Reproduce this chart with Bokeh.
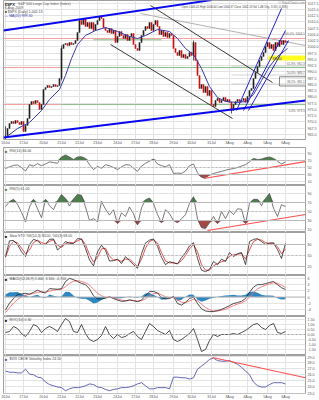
import numpy as np
from bokeh.plotting import figure
from bokeh.layouts import column
from bokeh.models import FixedTicker, Range1d, PrintfTickFormatter, Span
from bokeh.core.properties import value
from bokeh.embed import file_html
from bokeh.resources import INLINE

FONT = "Liberation Sans"

# ---------------- data ----------------
date_bars = [0, 9, 19, 28, 37, 46, 56, 65, 74, 84, 93, 103, 112, 121, 131, 140]
date_labels = ["16Jul", "17Jul", "20Jul", "21Jul", "22Jul", "23Jul", "24Jul", "27Jul",
               "28Jul", "29Jul", "30Jul", "31Jul", "3Aug", "4Aug", "5Aug", "6Aug"]

close = [964.5, 967.3, 969.3, 970.1, 969.3, 970.5, 969.7, 968.9, 970.1, 966.1,
         968.5, 971.3, 976.9, 978.1, 977.3, 978.5, 977.7, 974.9, 976.9, 982.9,
         983.7, 984.5, 983.7, 984.1, 984.9, 984.1, 984.5, 987.3, 999.3, 1000.9,
         1001.3, 1000.5, 1001.7, 1000.9, 1001.3, 1002.5, 1005.7, 1010.5, 1008.9, 1011.3,
         1008.1, 1009.7, 1007.3, 1009.7, 1006.5, 1008.9, 1010.5, 1012.1, 1011.3, 1007.7,
         1006.5, 1005.7, 1007.3, 1005.3, 1006.5, 1001.7, 1004.1, 1006.1, 1004.5, 1003.3,
         1004.9, 1002.5, 1004.1, 1005.3, 1000.9, 999.3, 998.5, 1001.7, 1004.5, 1006.5,
         1008.1, 1007.3, 1009.7, 1006.5, 1008.9, 1010.5, 1008.1, 1004.9, 1006.5, 1004.1,
         1005.7, 1003.7, 1005.3, 1004.5, 999.3, 997.7, 996.5, 998.5, 995.7, 996.9,
         995.3, 996.1, 997.7, 996.5, 1001.7, 994.5, 988.5, 983.3, 984.9, 981.7,
         984.1, 980.5, 982.5, 976.9, 976.1, 978.5, 979.3, 977.7, 978.5, 979.7,
         978.1, 978.9, 977.7, 974.5, 976.9, 978.1, 978.9, 978.1, 978.5, 979.3,
         977.7, 980.1, 982.5, 983.3, 987.3, 989.7, 992.1, 994.5, 996.1, 997.7,
         1000.1, 1001.7, 999.3, 1000.9, 998.5, 1001.7, 1000.1, 1002.5, 1000.9, 1002.5,
         1001.7, 1002.1]
wick_bars = [0, 28, 94, 113]
wick_low = [963.0, 986.5, 994.5, 973.3]
wick_high = [968.2, 1000.5, 1002.5, 978.0]

ma_bars = [0, 6, 12, 18, 22, 27, 30, 33, 36, 40, 45, 50, 56, 62, 66, 70, 76, 82, 86,
           90, 94, 98, 102, 106, 110, 116, 120, 124, 128, 132, 136, 141]
ma_vals = [963.7, 967.3, 969.7, 974.5, 978.9, 982.9, 988.5, 995.3, 1000.9, 1004.5,
           1006.5, 1007.7, 1006.1, 1004.1, 1003.3, 1004.5, 1006.9, 1006.1, 1003.3,
           999.3, 996.9, 991.3, 984.1, 979.7, 978.1, 977.7, 978.1, 980.9, 986.5,
           992.1, 996.1, 999.3]

price_ticks = [965.0, 967.5, 970.0, 972.5, 975.0, 977.5, 980.0, 982.5, 985.0, 987.5,
               990.0, 992.5, 995.0, 997.5, 1000.0, 1002.5, 1005.0, 1007.5, 1010.0,
               1012.5, 1015.0, 1017.5]

# trend lines: (bar0, price0, bar1, price1)
thick_blue = [(-1, 1006.5, 103, 1018.65), (-1, 963.7, 150, 978.5)]
channel_blue = [(115.5, 974.5, 138, 1015.3), (119, 974.5, 140, 1006.5), (121.5, 974.5, 141.5, 1002.5)]
black_lines = [(52.5, 1000.9, 113.5, 971.3), (72.5, 1016.5, 133.5, 985.7)]
gray_lines = [(67.5, 1013.3, 150, 1000.5)]
pink_levels = [(-1, 150, 1003.3), (-1, 27.5, 991.7), (-1, 27.5, 976.9)]
green_levels = [(44, 78, 1002.8), (27.5, 150, 991.7), (27.5, 150, 976.9)]
fib_labels = ["100.0%: 1004.1", "61.8%: 992.3", "50.0%: 988.7", "38.2%: 985.1", "0.0%: 973.3"]
fib_prices = [1004.1, 992.3, 988.7, 985.1, 973.3]
yellow_band = (131.5, 150, 994.5, 996.5)

osc_bars = list(range(0, 142, 2))
rsi14 = [47, 52, 56, 57, 50, 40, 58, 54, 61, 55, 60, 66, 64, 62, 80, 86, 80, 73, 80, 81,
         76, 58, 44, 53, 48, 58, 55, 50, 44, 52, 58, 57, 48, 39, 54, 62, 68, 74, 60, 55,
         52, 58, 33, 34, 33, 40, 55, 60, 35, 22, 21, 28, 33, 36, 39, 42, 45, 47, 50, 54,
         58, 66, 76, 73, 74, 78, 80, 76, 68, 60, 66]
rsi5 = [61, 72, 77, 66, 48, 28, 60, 77, 56, 36, 77, 63, 54, 74, 88, 79, 62, 78, 88, 86,
        60, 30, 34, 28, 72, 55, 42, 54, 23, 47, 39, 60, 45, 20, 58, 76, 80, 68, 43, 25,
        54, 45, 30, 25, 34, 43, 68, 83, 34, 14, 12, 25, 39, 23, 50, 34, 52, 43, 56, 55,
        23, 68, 77, 77, 63, 79, 90, 57, 39, 65, 61]
sto_k = [47, 90, 91, 80, 60, 47, 80, 94, 90, 80, 80, 94, 95, 65, 75, 88, 83, 83, 96, 95,
         69, 38, 22, 60, 78, 64, 35, 36, 40, 28, 47, 36, 25, 15, 55, 84, 92, 95, 75, 45,
         25, 33, 30, 27, 44, 58, 76, 85, 42, 10, 6, 12, 34, 25, 40, 34, 58, 47, 55, 58,
         25, 88, 94, 96, 88, 80, 84, 84, 66, 42, 83]
sto_d = [45, 75, 88, 85, 70, 55, 65, 85, 92, 85, 82, 88, 93, 78, 72, 82, 86, 84, 90, 95,
         80, 52, 32, 45, 68, 70, 48, 38, 38, 34, 40, 40, 30, 20, 40, 70, 88, 93, 84, 58,
         35, 30, 30, 28, 36, 50, 68, 80, 60, 25, 10, 10, 22, 28, 33, 36, 48, 52, 53, 56,
         40, 65, 88, 94, 92, 85, 83, 84, 74, 55, 68]
macd = [-4.2, -2.0, -0.5, 0.8, 1.0, 1.2, 0.9, 1.5, 2.2, 1.6, 1.3, 2.7, 2.6, 2.5, 2.7, 5.0,
        6.0, 5.6, 5.0, 4.4, 4.0, 2.6, 0.4, -0.6, -0.6, -0.4, 0.1, -0.5, -1.0, -1.4, -1.3,
        -0.9, -1.2, -1.5, -1.0, 0.5, 1.7, 1.8, 1.3, -0.2, -0.6, -0.5, 0.2, -2.1, -2.6,
        -1.7, -0.5, 0.0, -2.1, -3.8, -4.5, -4.7, -4.7, -4.4, -4.0, -3.4, -2.8, -2.1, -1.8,
        -1.4, -0.5, 1.5, 3.2, 4.0, 4.0, 4.3, 4.7, 5.0, 4.0, 3.0, 2.4]
macd_sig = [-5.0, -3.5, -2.0, -0.8, 0.0, 0.6, 0.9, 1.1, 1.5, 1.7, 1.6, 1.9, 2.2, 2.4, 2.5,
            3.3, 4.4, 5.1, 5.3, 5.0, 4.6, 3.8, 2.5, 1.2, 0.4, -0.1, -0.1, -0.3, -0.6, -1.0,
            -1.2, -1.1, -1.1, -1.3, -1.2, -0.6, 0.4, 1.1, 1.3, 0.7, 0.1, -0.3, -0.1, -0.9,
            -1.7, -1.8, -1.3, -0.7, -1.2, -2.3, -3.4, -4.1, -4.5, -4.5, -4.3, -3.9, -3.4,
            -2.8, -2.3, -1.9, -1.2, -0.1, 1.4, 2.6, 3.3, 3.8, 4.2, 4.6, 4.4, 3.8, 3.1]
roc = [0.2, 0.3, 0.8, 0.6, 0.1, -0.2, 0.3, 1.0, 0.8, 0.2, 0.6, 0.8, 0.6, 0.3, 1.0, 1.6,
       1.3, 0.3, 0.2, 1.0, 0.1, -0.5, -0.7, -0.5, -0.1, 0.8, 0.0, -0.4, 0.0, -0.3, -0.2,
       0.1, 0.3, -0.2, -0.5, 0.3, 1.1, 0.8, 0.4, 0.2, 0.0, 0.4, -0.5, -0.7, -0.5, -0.2,
       0.1, 0.6, -0.5, -1.7, -1.5, -0.6, 0.0, -0.2, 0.0, 0.0, 0.0, 0.1, 0.0, 0.2, 0.4,
       0.7, 1.0, 1.1, 0.7, 0.5, 0.9, 1.1, 0.2, 0.1, 0.3]
vix = [26.6, 26.4, 26.4, 26.3, 26.3, 26.9, 26.1, 26.0, 25.6, 25.5, 24.8, 24.4, 24.2, 24.0,
       23.9, 23.4, 23.7, 23.9, 23.9, 24.0, 24.2, 24.5, 24.4, 24.0, 23.9, 23.6, 23.4, 23.6,
       23.7, 23.9, 23.9, 24.0, 24.2, 24.5, 24.7, 24.2, 23.7, 23.7, 23.9, 23.9, 23.9, 23.7,
       25.6, 25.6, 25.5, 25.5, 25.3, 25.5, 26.9, 27.4, 27.9, 28.5, 28.7, 28.3, 28.2, 28.2,
       28.3, 28.0, 27.7, 27.2, 26.6, 26.0, 24.8, 24.2, 24.0, 24.0, 24.4, 24.7, 24.7, 24.7,
       24.5]
rsi14_trend = (99, 18.6, 150, 67.0)
rsi5_trend = (101, 7.8, 150, 43.3)
vix_trend = (103.5, 28.8, 150, 25.5)

# ---------------- helpers ----------------
xr = Range1d(-1, 150)
GRID = "#e3e3e3"
GREEN = "#4e7d4e"
RED = "#a54848"


def style_axis(ax, standoff):
    ax.major_label_text_font_size = "3.6px"
    ax.major_label_text_font = FONT
    ax.major_label_text_color = "#555555"
    ax.major_tick_out = 0
    ax.major_tick_in = 0
    ax.minor_tick_out = 0
    ax.minor_tick_in = 0
    ax.axis_line_color = None
    ax.major_label_standoff = standoff


def make_panel(fh, yr, yticks, fmt, below=False):
    p = figure(frame_width=302, frame_height=fh, x_range=xr, y_range=Range1d(*yr),
               output_backend="svg", toolbar_location=None,
               x_axis_location=("below" if below else None), y_axis_location="right",
               min_border_left=3, min_border_right=0, min_border_top=0, min_border_bottom=0,
               background_fill_color="white", border_fill_color="white",
               outline_line_color="#a0a0a0")
    p.yaxis.ticker = FixedTicker(ticks=yticks)
    p.yaxis.formatter = PrintfTickFormatter(format=fmt)
    for ax in p.yaxis:
        style_axis(ax, 2)
    p.xgrid.ticker = FixedTicker(ticks=date_bars)
    p.grid.grid_line_color = GRID
    p.grid.grid_line_width = 1
    if below:
        p.xaxis.ticker = FixedTicker(ticks=date_bars)
        p.xaxis.major_label_overrides = {b: l for b, l in zip(date_bars, date_labels)}
        for ax in p.xaxis:
            style_axis(ax, 1)
    return p


def txt(p, x, y, s, color="#333333", size="4px", align="left", baseline="top", style="normal"):
    p.text(x=[x], y=[y], text=[s], text_font=value(FONT), text_font_size=size,
           text_color=color, text_align=align, text_baseline=baseline, text_font_style=style)


def seg(p, line, color, width=1.0, dash="solid", alpha=1.0):
    x0, y0, x1, y1 = line
    p.line(x=[x0, x1], y=[y0, y1], line_color=color, line_width=width, line_dash=dash,
           line_alpha=alpha)


# ---------------- main price panel ----------------
pm = make_panel(139, (962.9, 1018.5), price_ticks, "%.1f", below=True)
for (a, b, lv) in pink_levels:
    seg(pm, (a, lv, b, lv), "#f4a0a0", 1)
for (a, b, lv) in green_levels:
    seg(pm, (a, lv, b, lv), "#8fbf8f", 1)
for ln in gray_lines:
    seg(pm, ln, "#b0b0b0", 1)
for pr in fib_prices[1:4]:
    seg(pm, (113, pr, 150, pr), "#c8c8c8", 0.8)
bx0, bx1, by0, by1 = yellow_band
pm.quad(left=[bx0], right=[bx1], bottom=[by0], top=[by1], fill_color="#ffff20",
        line_color=None)
txt(pm, bx0 + 2, (by0 + by1) / 2, "995.50", color="#333333", size="3px", baseline="middle")

cl = np.array(close)
op = np.r_[cl[0], cl[:-1]]
bars = np.arange(len(cl))
up = cl >= op
pm.segment(x0=wick_bars, y0=wick_low, x1=wick_bars, y1=wick_high, line_color="#333333",
           line_width=0.8)
pm.vbar(x=bars[up], bottom=op[up], top=cl[up], width=0.6, fill_color="#222222",
        line_color="#222222", line_width=0.4)
pm.vbar(x=bars[~up], bottom=cl[~up], top=op[~up], width=0.6, fill_color="#d01010",
        line_color="#d01010", line_width=0.4)
pm.line(x=ma_bars, y=ma_vals, line_color="#3838a8", line_width=1)

for ln in black_lines:
    seg(pm, ln, "#222222", 0.9)
for ln in channel_blue:
    seg(pm, ln, "#2020d8", 1)
for ln in thick_blue:
    seg(pm, ln, "#0808f0", 2)

# box around 38.2% label
pm.quad(left=[137], right=[150.5], bottom=[984.3], top=[988.0], fill_color=None,
        line_color="#555555", line_width=0.7)
for lab, pr in zip(fib_labels, fib_prices):
    txt(pm, 149.6, pr + 0.3, lab, color="#666666", size="3px", align="right",
        baseline="bottom")

# header texts
txt(pm, -0.4, 1018.1, "$SPX", color="#222222", size="4px", style="bold")
txt(pm, 6.3, 1018.1, "S&P 500 Large Cap Index (Index)", color="#555555", size="3.5px")
txt(pm, -0.4, 1016.4, "6-Aug-2009", color="#555555", size="3.5px")
txt(pm, -0.4, 1014.7, "\u25a0 $SPX (Daily) 1,002.13", color="#444444", size="3.5px")
txt(pm, -0.4, 1013.3, "\u2014 MA(20) 999.30", color="#3838a8", size="3.5px")
txt(pm, 88, 1016.6, "Open 1005.41  High 1006.64  Low 1000.37  Close 1002.13  "
                    "Vol 1.4B  Chg -3.33 (-0.33%)", color="#444444", size="2.8px")
txt(pm, 149.6, 1018.3, "\u00a9 StockCharts.com", color="#777777", size="3px", align="right")


# ---------------- oscillator panels ----------------
def title(p, yr, fh, s, color="#444444", mark="#4e7d4e"):
    top = yr[1] - (yr[1] - yr[0]) / fh * 1.2
    txt(p, -0.4, top, "\u25a0", color=mark, size="4px")
    txt(p, 2.0, top, s, color=color, size="3.5px")


# RSI 14
yr2 = (-1.4, 107.1)
p2 = make_panel(38, yr2, [10, 30, 50, 70, 90], "%d")
r14 = np.array(rsi14, float)
p2.varea(x=osc_bars, y1=70, y2=np.maximum(r14, 70), fill_color=GREEN)
p2.varea(x=osc_bars, y1=np.minimum(r14, 30), y2=30, fill_color=RED)
p2.add_layout(Span(location=70, dimension="width", line_color="#bbbbbb", line_width=1))
p2.add_layout(Span(location=30, dimension="width", line_color="#bbbbbb", line_width=1))
p2.add_layout(Span(location=50, dimension="width", line_color="#bbbbbb", line_width=1,
                   line_dash="2 2"))
p2.line(x=osc_bars, y=rsi14, line_color="#555555", line_width=0.8)
seg(p2, rsi14_trend, "#ff5050", 1.2)
title(p2, yr2, 38, "RSI(14) 66.00")

# RSI 5
yr3 = (3.3, 107.8)
p3 = make_panel(47, yr3, [10, 30, 50, 70, 90], "%d")
r5 = np.array(rsi5, float)
p3.varea(x=osc_bars, y1=70, y2=np.maximum(r5, 70), fill_color=GREEN)
p3.varea(x=osc_bars, y1=np.minimum(r5, 30), y2=30, fill_color=RED)
p3.add_layout(Span(location=70, dimension="width", line_color="#bbbbbb", line_width=1))
p3.add_layout(Span(location=30, dimension="width", line_color="#bbbbbb", line_width=1))
p3.add_layout(Span(location=50, dimension="width", line_color="#bbbbbb", line_width=1,
                   line_dash="2 2"))
p3.line(x=osc_bars, y=rsi5, line_color="#555555", line_width=0.8)
seg(p3, rsi5_trend, "#ff5050", 1.2)
title(p3, yr3, 47, "RSI(5) 61.00")

# Stochastics
yr4 = (-4.5, 112.7)
p4 = make_panel(43, yr4, [20, 50, 80], "%d")
p4.add_layout(Span(location=80, dimension="width", line_color="#bbbbbb", line_width=1))
p4.add_layout(Span(location=20, dimension="width", line_color="#bbbbbb", line_width=1))
p4.add_layout(Span(location=50, dimension="width", line_color="#bbbbbb", line_width=1,
                   line_dash="2 2"))
p4.line(x=osc_bars, y=sto_d, line_color="#e03c3c", line_width=0.9)
p4.line(x=osc_bars, y=sto_k, line_color="#222222", line_width=0.8)
title(p4, yr4, 43, "Slow STO %K(14,3) 83.00, %D(3) 68.00", mark="#222222")

# MACD
yr5 = (-6.29, 6.94)
p5 = make_panel(41, yr5, [-4, -2, 0, 2, 4, 6], "%d")
mac = np.array(macd)
sig = np.array(macd_sig)
p5.varea(x=osc_bars, y1=0, y2=mac - sig, fill_color="#2f86c0")
p5.add_layout(Span(location=0, dimension="width", line_color="#bbbbbb", line_width=1))
p5.line(x=osc_bars, y=macd_sig, line_color="#f07070", line_width=0.9)
p5.line(x=osc_bars, y=macd, line_color="#222222", line_width=0.8)
title(p5, yr5, 41, "MACD(12,26,9) 2.400, 3.100, -0.700", mark="#222222")

# ROC
yr6 = (-2.1, 1.8)
p6 = make_panel(39, yr6, [-1.5, -1.0, -0.5, 0.0, 0.5, 1.0, 1.5], "%.2f")
p6.add_layout(Span(location=0, dimension="width", line_color="#aaaaaa", line_width=1,
                   line_dash="2 2"))
p6.line(x=osc_bars, y=roc, line_color="#222222", line_width=0.8)
title(p6, yr6, 39, "ROC(10) 0.30", mark="#222222")

# VIX
yr7 = (22.94, 29.13)
p7 = make_panel(38, yr7, [23, 24, 25, 26, 27, 28, 29], "%.1f", below=True)
p7.line(x=osc_bars, y=vix, line_color="#5454aa", line_width=0.9)
seg(p7, vix_trend, "#ff5050", 1.2)
title(p7, yr7, 38, "$VIX CBOE Volatility Index 24.50", mark="#5454aa")

layout = column(pm, p2, p3, p4, p5, p6, p7, spacing=0)
open("out.html", "w").write(file_html(layout, INLINE))
